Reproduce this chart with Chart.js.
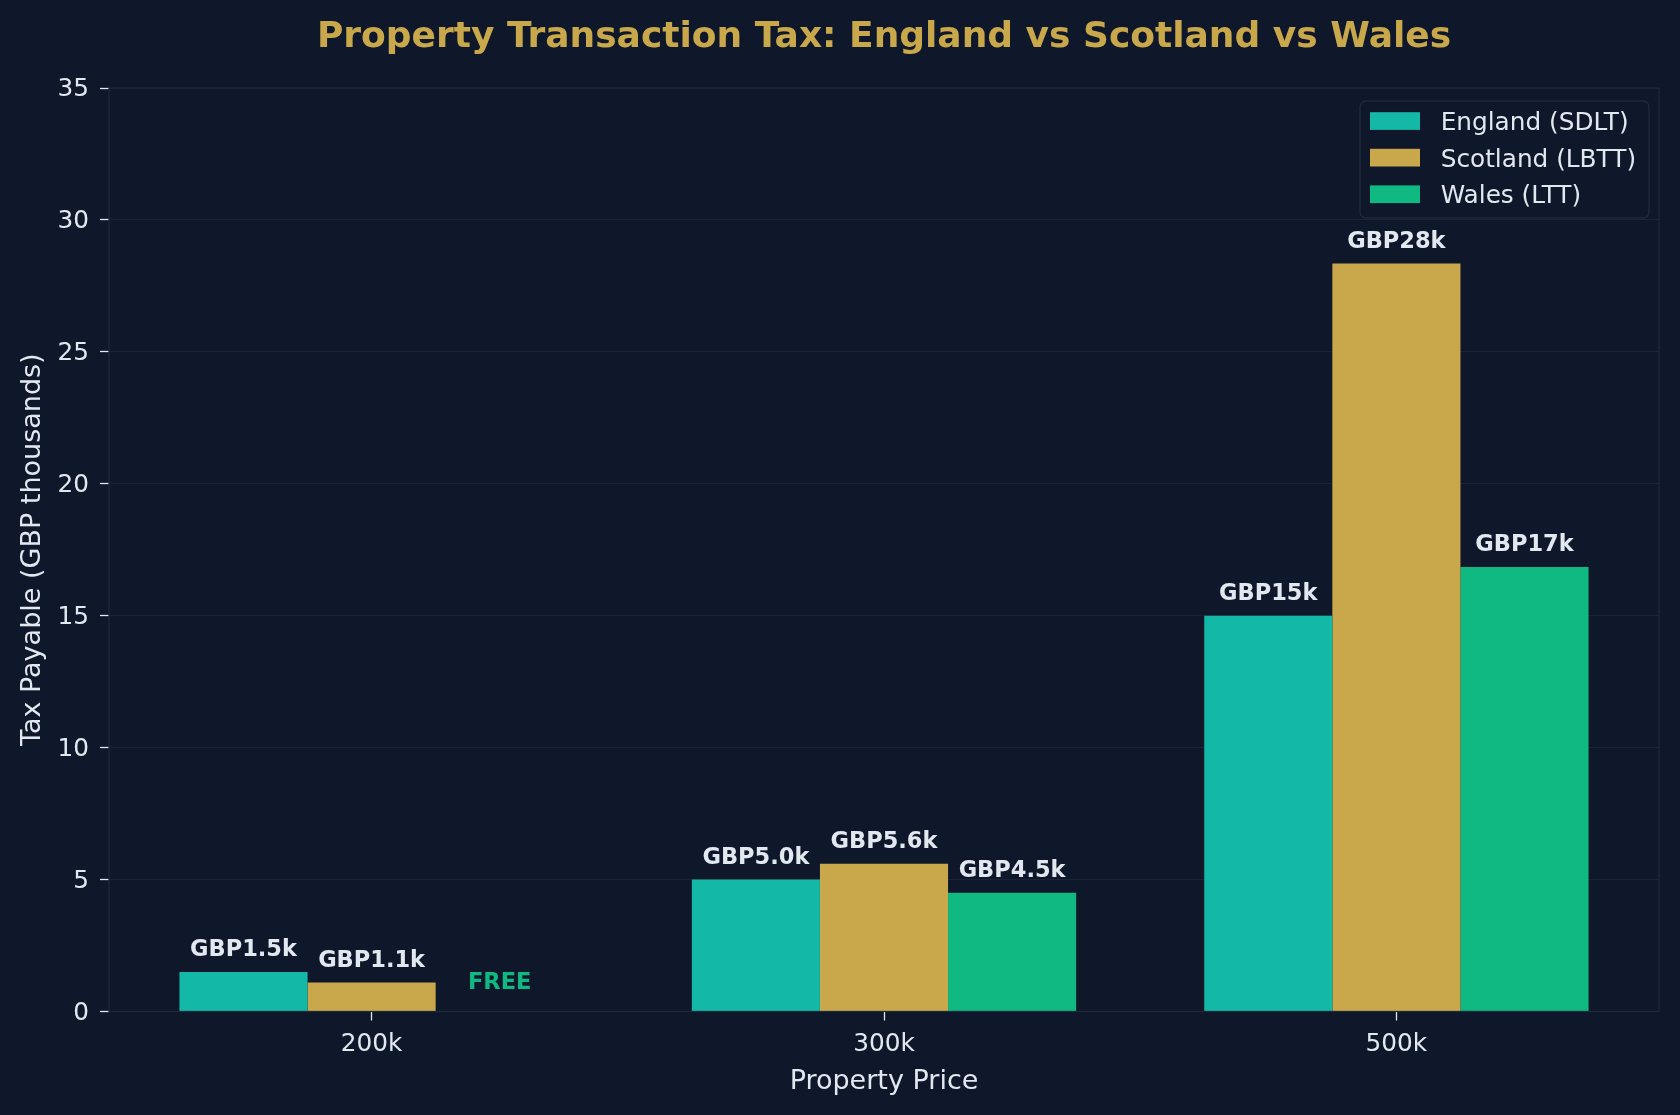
<!DOCTYPE html>
<html>
<head>
<meta charset="utf-8">
<script src="https://cdn.jsdelivr.net/npm/chart.js@4.4.1/dist/chart.umd.min.js"></script>
<style>
  html, body { margin: 0; padding: 0; background: #0f172a; }
  #wrap { width: 1680px; height: 1115px; }
</style>
</head>
<body>
<div id="wrap"><canvas id="chart" width="1680" height="1115"></canvas></div>
<script>
  // values in GBP thousands
  const prices = ['200k', '300k', '500k'];
  const england = [1.5, 5.0, 15.0];
  const scotland = [1.1, 5.6, 28.35];
  const wales = [0, 4.5, 16.85];
  const seriesNames = ['England (SDLT)', 'Scotland (LBTT)', 'Wales (LTT)'];
  const seriesColors = ['#14b8a6', '#c9a84c', '#10b981'];
  const yMax = 35;
  const yStep = 5;

  const BG = '#0f172a';
  const TEXT = '#e2e8f0';
  const SPINE = '#1e293b';
  const FONT = "'DejaVu Sans', sans-serif";

  function fmt(v) {
    return 'GBP' + (v >= 10 ? Math.round(v) : v.toFixed(1)) + 'k';
  }

  const bgPlugin = {
    id: 'bg',
    beforeDraw(chart) {
      const ctx = chart.ctx;
      ctx.save();
      ctx.fillStyle = BG;
      ctx.fillRect(0, 0, chart.width, chart.height);
      ctx.restore();
    },
  };

  const framePlugin = {
    id: 'frame',
    afterDatasetsDraw(chart) {
      const { ctx, chartArea: a } = chart;
      ctx.save();
      ctx.strokeStyle = SPINE;
      ctx.lineWidth = 1.3;
      ctx.strokeRect(a.left, a.top, a.right - a.left, a.bottom - a.top);
      ctx.restore();
    },
  };

  const labelPlugin = {
    id: 'barLabels',
    afterDatasetsDraw(chart) {
      const ctx = chart.ctx;
      const zero = chart.scales.y.getPixelForValue(0);
      ctx.save();
      ctx.font = "bold 22.5px " + FONT;
      ctx.textAlign = 'center';
      ctx.textBaseline = 'alphabetic';
      chart.data.datasets.forEach((ds, di) => {
        chart.getDatasetMeta(di).data.forEach((bar, i) => {
          const v = ds.data[i];
          if (v === 0) {
            ctx.fillStyle = ds.backgroundColor;
            ctx.fillText('FREE', bar.x, zero - 23);
          } else {
            ctx.fillStyle = TEXT;
            ctx.fillText(fmt(v), bar.x, bar.y - 15.5);
          }
        });
      });
      ctx.restore();
    },
  };

  const legendPlugin = {
    id: 'boxLegend',
    afterDraw(chart) {
      const { ctx, chartArea: a } = chart;
      const w = 289, h = 117;
      const x = a.right - 10 - w, y = a.top + 13;
      ctx.save();
      ctx.beginPath();
      ctx.roundRect(x, y, w, h, 6);
      ctx.fillStyle = 'rgba(15,23,42,0.85)';
      ctx.fill();
      ctx.strokeStyle = SPINE;
      ctx.lineWidth = 1.5;
      ctx.stroke();
      ctx.font = '24.75px ' + FONT;
      ctx.textBaseline = 'middle';
      ctx.textAlign = 'left';
      seriesNames.forEach((name, i) => {
        const cy = y + 20 + i * 36.6;
        ctx.fillStyle = seriesColors[i];
        ctx.fillRect(x + 10, cy - 8.8, 50, 17.7);
        ctx.fillStyle = TEXT;
        ctx.fillText(name, x + 80.7, cy + 2.5);
      });
      ctx.restore();
    },
  };

  new Chart(document.getElementById('chart').getContext('2d'), {
    type: 'bar',
    data: {
      labels: prices,
      datasets: [england, scotland, wales].map((d, i) => ({
        label: seriesNames[i],
        data: d,
        backgroundColor: seriesColors[i],
        borderWidth: 0,
        categoryPercentage: 0.75,
        barPercentage: 1.0,
      })),
    },
    options: {
      responsive: false,
      animation: false,
      devicePixelRatio: 1,
      layout: { padding: { left: 0, right: 21, top: 0, bottom: 0 } },
      plugins: {
        legend: { display: false },
        tooltip: { enabled: false },
        title: {
          display: true,
          fullSize: false,
          text: 'Property Transaction Tax: England vs Scotland vs Wales',
          color: '#c9a84c',
          font: { family: FONT, size: 36, weight: 'bold', lineHeight: 1.2 },
          padding: { top: 16.3, bottom: 28.5 },
        },
      },
      scales: {
        x: {
          offset: true,
          // matplotlib-style 5% margins around the bar groups
          afterBuildTicks: (s) => { s._startValue = -0.5125; s._valueRange = 3.025; },
          afterFit: (s) => { s.height = 103.5; },
          grid: { display: true, offset: false, drawOnChartArea: false, drawTicks: true, tickLength: 9, tickColor: TEXT, tickWidth: 1.3 },
          border: { display: false },
          ticks: { color: TEXT, padding: 9, font: { family: FONT, size: 24.75 } },
          title: {
            display: true,
            text: 'Property Price',
            color: TEXT,
            font: { family: FONT, size: 27, lineHeight: 1.2 },
            padding: { top: 0, bottom: 17.2 },
          },
        },
        y: {
          min: 0,
          max: yMax,
          afterFit: (s) => { s.width = 109; },
          grid: { color: 'rgba(30,41,59,0.75)', lineWidth: 1, drawTicks: true, tickLength: 9, tickColor: TEXT, tickWidth: 1.3 },
          border: { display: false },
          ticks: { stepSize: yStep, color: TEXT, padding: 11, labelOffset: 2, font: { family: FONT, size: 24.75 } },
          title: {
            display: true,
            text: 'Tax Payable (GBP thousands)',
            color: TEXT,
            font: { family: FONT, size: 27, lineHeight: 1.2 },
            padding: { top: 16.8, bottom: 0 },
          },
        },
      },
    },
    plugins: [bgPlugin, framePlugin, labelPlugin, legendPlugin],
  });
</script>
</body>
</html>
